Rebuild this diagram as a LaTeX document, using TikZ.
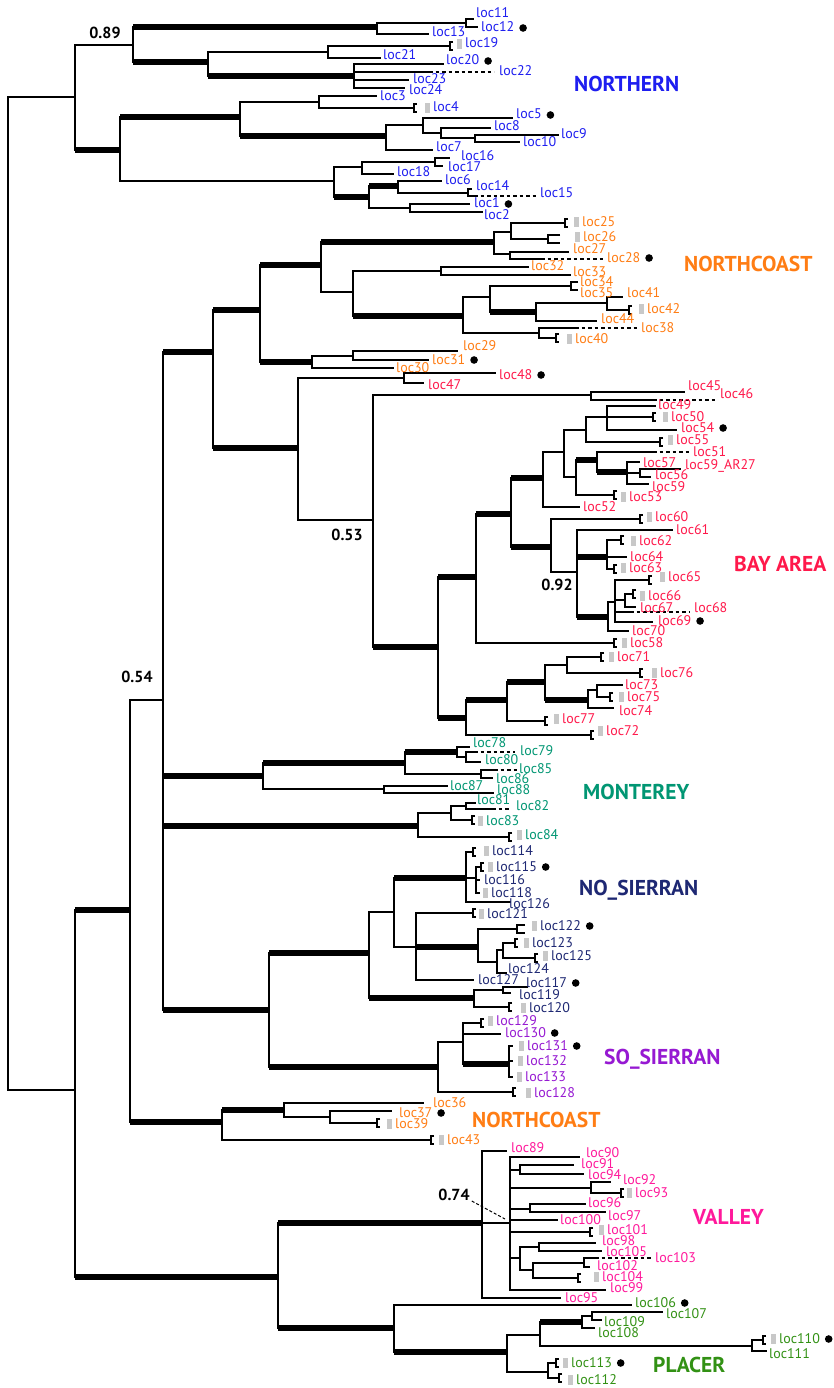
\documentclass[tikz,border=0pt]{standalone}
\usepackage{fontspec}
\setmainfont{PT Sans}
\definecolor{cN}{RGB}{30,30,240}
\definecolor{cC}{RGB}{255,125,20}
\definecolor{cB}{RGB}{255,25,75}
\definecolor{cM}{RGB}{0,150,115}
\definecolor{cS}{RGB}{30,40,115}
\definecolor{cP}{RGB}{150,25,210}
\definecolor{cV}{RGB}{255,25,155}
\definecolor{cG}{RGB}{50,145,20}
\definecolor{gq}{RGB}{200,200,200}
\tikzset{
 ln/.style={line width=1.7pt},
 tk/.style={line width=6pt},
 dl/.style={line width=1.7pt,dash pattern=on 3.5pt off 3pt},
 lab/.style={anchor=west,inner sep=0pt,text height=8pt,text depth=0pt,font=\fontsize{14}{16}\selectfont},
 nL/.style={lab,text=cN}, cL/.style={lab,text=cC}, bL/.style={lab,text=cB},
 mL/.style={lab,text=cM}, sL/.style={lab,text=cS}, pL/.style={lab,text=cP},
 vL/.style={lab,text=cV}, gL/.style={lab,text=cG},
 grp/.style={anchor=west,inner sep=0pt,text height=15pt,text depth=0pt,font=\fontsize{21.5}{24}\selectfont\bfseries},
 supv/.style={inner sep=0pt,font=\fontsize{16}{18}\selectfont\bfseries},
}
\newcommand\trc[3]{\coordinate (#1) at (#2,#3);}
\newcommand\trb[2]{\draw[ln] (#1) |- (#2);}
\newcommand\trt[2]{\draw[ln] (#1) |- (#2);\draw[tk] (#1 |- #2) -- (#2);}
\newcommand\trk[4][3]{\coordinate (#2) at (#3,#4);\draw[ln] ([shift={(#1,-4)}]#2) -| ([shift={(0,4)}]#2) -- ++(#1,0);}
\newcommand\trd[4]{\coordinate (#2) at (#3,#4);\draw[dl] (#1) -- (#2);}
\newcommand\trn[4]{\node[#1] (#2) at (#3,#4) {#2};}
\newcommand\trg[1]{\fill[gq] ([shift={(-8.5,-4.8)}]#1.west) rectangle ([shift={(-3,4.8)}]#1.west);}
\newcommand\trdot[1]{\fill ([xshift=8.5pt]#1.east) circle (3.8pt);}
\begin{document}
\begin{tikzpicture}[x=1pt,y=-1pt]
\fill[white] (0,0) rectangle (833,1388);
\useasboundingbox (0,0) rectangle (833,1388);
% ---------------- backbone
\trc{root}{8}{593}
\trc{N1}{75}{97}\trc{N6}{75}{1090}\trb{root}{N1}\trb{root}{N6}
\trc{N2}{133}{45}\trc{N4}{120}{150}\trb{N1}{N2}\trt{N1}{N4}
\trc{A}{377}{27}\trc{N3}{208}{62}\trt{N2}{A}\trt{N2}{N3}
\trc{Cn}{328}{52}\trc{E}{354}{76}\trb{N3}{Cn}\trt{N3}{E}
\trc{N5}{240}{117}\trc{J}{334}{181}\trt{N4}{N5}\trb{N4}{J}
\trc{I}{319}{102}\trc{V}{386}{136}\trb{N5}{I}\trt{N5}{V}
% ---------------- NORTHERN
\trc{B}{466}{23}\trc{t13}{429}{34}\trb{A}{B}\trb{A}{t13}
\trc{t11}{474}{19}\trc{t12}{478}{27}\trb{B}{t11}\trb{B}{t12}
\trk{k19}{450}{46}\trc{t21}{381}{58}\trb{Cn}{k19}\trb{Cn}{t21}
\trc{t20}{444}{64}\trc{t22}{429}{72}\trc{t23}{409}{80}\trc{t24}{405}{88}
\trb{E}{t20}\trb{E}{t22}\trb{E}{t23}\trb{E}{t24}\trd{t22}{d22}{494}{72}
\trc{t3}{377}{96}\trk{k4}{414}{108}\trb{I}{t3}\trb{I}{k4}
\trc{F}{423}{125}\trc{t7}{433}{150}\trb{V}{F}\trb{V}{t7}
\trc{t5}{513}{118}\trc{G}{441}{133}\trb{F}{t5}\trb{F}{G}
\trc{t8}{491}{128}\trc{H}{475}{138}\trb{G}{t8}\trb{G}{H}
\trc{t9}{559}{135}\trc{t10}{520}{142}\trb{H}{t9}\trb{H}{t10}
\trc{K}{362}{167}\trc{M}{369}{197}\trb{J}{K}\trt{J}{M}
\trc{L}{435}{162}\trc{t18}{394}{174}\trb{K}{L}\trb{K}{t18}
\trc{t16}{450}{158}\trc{t17}{443}{166}\trb{L}{t16}\trb{L}{t17}
\trc{Nn}{398}{186}\trc{P}{410}{208}\trt{M}{Nn}\trb{M}{P}
\trc{t6}{442}{181}\trc{O}{468}{193}\trb{Nn}{t6}\trb{Nn}{O}
\trc{t14}{472}{189}\trc{t15}{474}{196}\trb{O}{t14}\trb{O}{t15}\trd{t15}{d15}{537}{196}
\trc{t1}{470}{204}\trc{t2}{483}{212}\trb{P}{t1}\trb{P}{t2}
% ---------------- middle backbone
\trc{N7}{130}{910}\trc{VA0}{278}{1277}\trt{N6}{N7}\trt{N6}{VA0}
\trc{N8}{163}{700}\trc{N10}{222}{1122}\trb{N7}{N8}\trt{N7}{N10}
\trc{N9}{213}{352}\trc{MA}{263}{776}\trc{MG}{418}{826}\trc{SA}{269}{1010}
\trt{N8}{N9}\trt{N8}{MA}\trt{N8}{MG}\trt{N8}{SA}
\trc{Q}{260}{310}\trc{Z}{298}{448}\trt{N9}{Q}\trt{N9}{Z}
% ---------------- NORTHCOAST (upper)
\trc{R}{321}{265}\trc{Y1}{312}{362}\trt{Q}{R}\trt{Q}{Y1}
\trc{S}{494}{242}\trc{W}{353}{292}\trt{R}{S}\trb{R}{W}
\trc{T}{511}{232}\trc{U}{510}{254}\trb{S}{T}\trb{S}{U}
\trk{k25}{565}{223}\trk[12]{k26}{548}{239}\trb{T}{k25}\trb{T}{k26}
\trc{t27}{569}{252}\trc{t28}{541}{259}\trb{U}{t27}\trb{U}{t28}\trd{t28}{d28}{606}{259}
\trc{X1}{441}{271}\trc{X2}{463}{316}\trb{W}{X1}\trt{W}{X2}
\trc{t32}{529}{267}\trc{t33}{571}{275}\trb{X1}{t32}\trb{X1}{t33}
\trc{X3}{490}{297}\trc{X6}{539}{333}\trb{X2}{X3}\trb{X2}{X6}
\trk[7]{k34}{571}{286}\trc{X4}{536}{312}\trb{X3}{k34}\trt{X3}{X4}
\trc{X5}{607}{303}\trc{t44}{597}{321}\trb{X4}{X5}\trb{X4}{t44}
\trc{t41}{623}{297}\trk{k42}{629}{310}\trb{X5}{t41}\trb{X5}{k42}
\trc{t38}{575}{328}\trk{k40}{556}{338}\trb{X6}{t38}\trb{X6}{k40}\trd{t38}{d38}{638}{328}
\trc{Y2}{353}{356}\trc{t30}{394}{368}\trb{Y1}{Y2}\trb{Y1}{t30}
\trc{t29}{458}{351}\trc{t31}{429}{360}\trb{Y2}{t29}\trb{Y2}{t31}
% ---------------- BAY AREA
\trc{Z1}{404}{378}\trc{AA}{373}{520}\trb{Z}{Z1}\trb{Z}{AA}
\trc{t48}{496}{373}\trc{t47}{424}{383}\trb{Z1}{t48}\trb{Z1}{t47}
\trc{AB}{591}{395}\trc{AC}{438}{647}\trb{AA}{AB}\trt{AA}{AC}
\trc{t45}{685}{392}\trc{t46}{653}{400}\trb{AB}{t45}\trb{AB}{t46}\trd{t46}{d46}{718}{400}
\trc{AN}{476}{577}\trc{AY}{466}{718}\trt{AC}{AN}\trt{AC}{AY}
\trc{AL}{511}{514}\trk{k58}{614}{643}\trt{AN}{AL}\trb{AN}{k58}
\trc{AG}{543}{478}\trc{AM}{551}{547}\trt{AL}{AG}\trt{AL}{AM}
\trc{AF}{564}{452}\trc{t52}{580}{507}\trb{AG}{AF}\trb{AG}{t52}
\trc{AE}{586}{430}\trc{AH}{576}{477}\trb{AF}{AE}\trb{AF}{AH}
\trc{AD}{607}{417}\trk{k55}{660}{442}\trb{AE}{AD}\trb{AE}{k55}
\trc{t49}{656}{406}\trk{k50}{653}{417}\trc{t54}{677}{430}\trb{AD}{t49}\trb{AD}{k50}\trb{AD}{t54}
\trc{AI}{597}{460}\trk{k53}{614}{495}\trt{AH}{AI}\trb{AH}{k53}
\trc{t51}{653}{452}\trc{AJ}{627}{472}\trb{AI}{t51}\trt{AI}{AJ}\trd{t51}{d51}{690}{452}
\trc{t57}{640}{462}\trc{AK}{640}{473}\trc{t59}{649}{484}\trb{AJ}{t57}\trb{AJ}{AK}\trb{AJ}{t59}
\trc{t59ar}{681}{469}\trc{t56}{651}{477}\trb{AK}{t59ar}\trb{AK}{t56}
\trk{k60}{640}{519}\trc{AO}{577}{572}\trb{AM}{k60}\trb{AM}{AO}
\trc{t61}{673}{530}\trc{AP}{607}{557}\trc{AQ}{608}{617}\trb{AO}{t61}\trt{AO}{AP}\trt{AO}{AQ}
\trk{k62}{621}{540}\trc{t64}{627}{557}\trk{k63}{614}{569}\trb{AP}{k62}\trb{AP}{t64}\trb{AP}{k63}
\trc{AR}{615}{602}\trc{t70}{629}{631}\trb{AQ}{AR}\trb{AQ}{t70}
\trk{k65}{649}{580}\trc{AS}{625}{600}\trc{t68}{630}{612}\trc{t69}{653}{622}
\trb{AR}{k65}\trb{AR}{AS}\trb{AR}{t68}\trb{AR}{t69}\trd{t68}{d68}{690}{612}
\trk{k66}{633}{594}\trc{t67}{636}{607}\trb{AS}{k66}\trb{AS}{t67}
\trc{AX}{507}{700}\trk{k72}{591}{735}\trt{AY}{AX}\trb{AY}{k72}
\trc{AT}{545}{682}\trk{k77}{545}{721}\trt{AX}{AT}\trb{AX}{k77}
\trc{AU}{567}{665}\trc{AV}{588}{700}\trb{AT}{AU}\trt{AT}{AV}
\trk{k71}{601}{657}\trk{k76}{640}{673}\trb{AU}{k71}\trb{AU}{k76}
\trc{AW}{597}{690}\trc{t74}{614}{708}\trb{AV}{AW}\trb{AV}{t74}
\trc{t73}{623}{685}\trk{k75}{610}{697}\trb{AW}{t73}\trb{AW}{k75}
% ---------------- MONTEREY
\trc{MB}{405}{763}\trc{MF}{384}{789}\trt{MA}{MB}\trb{MA}{MF}
\trc{MC}{457}{752}\trc{MD}{481}{774}\trt{MB}{MC}\trb{MB}{MD}
\trc{t78}{470}{747}\trc{ME}{466}{757}\trb{MC}{t78}\trb{MC}{ME}
\trc{t79}{474}{752}\trc{t80}{481}{762}\trb{ME}{t79}\trb{ME}{t80}\trd{t79}{d79}{515}{752}
\trc{t85}{494}{770}\trc{t86}{493}{778}\trb{MD}{t85}\trb{MD}{t86}\trd{t85}{d85}{517}{770}
\trc{t87}{448}{786}\trc{t88}{494}{793}\trb{MF}{t87}\trb{MF}{t88}
\trc{MH}{451}{813}\trk{k84}{509}{837}\trb{MG}{MH}\trb{MG}{k84}
\trc{MI}{466}{806}\trk{k83}{472}{820}\trb{MH}{MI}\trb{MH}{k83}
\trc{t81}{476}{803}\trc{t82}{492}{809}\trb{MI}{t81}\trb{MI}{t82}\trd{t82}{d82}{509}{809}
% ---------------- NO_SIERRAN
\trc{NE}{369}{953}\trc{SB}{438}{1067}\trt{SA}{NE}\trt{SA}{SB}
\trc{NC}{394}{912}\trc{NF}{474}{998}\trb{NE}{NC}\trt{NE}{NF}
\trc{NA}{466}{878}\trc{ND}{416}{947}\trt{NC}{NA}\trb{NC}{ND}
\trk{k114}{473}{852}\trc{NB}{476}{878}\trc{t126}{511}{902}\trb{NA}{k114}\trb{NA}{NB}\trb{NA}{t126}
\trk{k115}{481}{867}\trc{t116}{480}{880}\trc{t118}{480}{893}\trb{NB}{k115}\trb{NB}{t116}\trb{NB}{t118}
\trk{k121}{473}{913}\trc{NG}{478}{947}\trc{t127}{474}{980}\trb{ND}{k121}\trt{ND}{NG}\trb{ND}{t127}
\trk[8]{k122}{517}{929}\trc{NH}{497}{962}\trb{NG}{k122}\trb{NG}{NH}
\trc{NI}{503}{950}\trc{t124}{507}{973}\trb{NH}{NI}\trb{NH}{t124}
\trk{k123}{515}{943}\trk{k125}{535}{958}\trb{NI}{k123}\trb{NI}{k125}
\trc{NJ}{503}{990}\trk{k120}{509}{1007}\trb{NF}{NJ}\trb{NF}{k120}
\trc{t117}{528}{987}\trc{t119}{511}{993}\trb{NJ}{t117}\trb{NJ}{t119}
% ---------------- SO_SIERRAN
\trc{SC}{463}{1042}\trk{k128}{513}{1092}\trb{SB}{SC}\trb{SB}{k128}
\trk{k129}{481}{1023}\trc{t130}{501}{1034}\trc{SD}{509}{1064}\trb{SC}{k129}\trb{SC}{t130}\trt{SC}{SD}
\trc{t131}{513}{1046}\trc{t132}{513}{1061}\trc{t133}{513}{1077}\trb{SD}{t131}\trb{SD}{t132}\trb{SD}{t133}
% ---------------- NORTHCOAST (lower)
\trc{NCa}{284}{1110}\trk{k43}{431}{1140}\trt{N10}{NCa}\trb{N10}{k43}
\trc{t36}{424}{1103}\trc{NCb}{330}{1117}\trb{NCa}{t36}\trb{NCa}{NCb}
\trc{t37}{392}{1111}\trk{k39}{377}{1123}\trb{NCb}{t37}\trb{NCb}{k39}
% ---------------- VALLEY
\trc{VA}{482}{1223}\trc{PA}{394}{1328}\trt{VA0}{VA}\trt{VA0}{PA}
\trc{t89}{507}{1151}\trc{VB}{510}{1223}\trc{t95}{561}{1298}\trb{VA}{t89}\trb{VA}{VB}\trb{VA}{t95}
\trc{t90}{580}{1157}\trc{V1}{520}{1170}\trc{V2}{591}{1188}\trc{V3}{530}{1209}\trc{t100}{558}{1220}
\trk{k101}{590}{1232}\trc{VC}{520}{1258}\trc{t99}{606}{1290}
\trb{VB}{t90}\trb{VB}{V1}\trb{VB}{V2}\trb{VB}{V3}\trb{VB}{t100}\trb{VB}{k101}\trb{VB}{VC}\trb{VB}{t99}
\trc{t91}{574}{1165}\trc{t94}{584}{1174}\trb{V1}{t91}\trb{V1}{t94}
\trc{t92}{611}{1182}\trk{k93}{621}{1193}\trb{V2}{t92}\trb{V2}{k93}
\trc{t96}{586}{1204}\trc{t97}{606}{1212}\trb{V3}{t96}\trb{V3}{t97}
\trc{VD}{539}{1247}\trc{VE}{533}{1270}\trb{VC}{VD}\trb{VC}{VE}
\trc{t98}{596}{1243}\trc{t105}{602}{1251}\trb{VD}{t98}\trb{VD}{t105}
\trc{VF}{584}{1263}\trk{k104}{578}{1278}\trb{VE}{VF}\trb{VE}{k104}
\trc{t103}{595}{1258}\trc{t102}{590}{1267}\trb{VF}{t103}\trb{VF}{t102}\trd{t103}{d103}{651}{1258}
% ---------------- PLACER
\trc{t106}{632}{1305}\trc{PB}{507}{1352}\trb{PA}{t106}\trt{PA}{PB}
\trc{PC}{540}{1335}\trc{PD}{548}{1372}\trb{PB}{PC}\trb{PB}{PD}
\trc{PE}{582}{1322}\trc{PG}{752}{1346}\trt{PC}{PE}\trb{PC}{PG}
\trc{PF}{592}{1316}\trc{t108}{595}{1328}\trb{PE}{PF}\trb{PE}{t108}
\trc{t107}{663}{1312}\trc{t109}{602}{1320}\trb{PF}{t107}\trb{PF}{t109}
\trk{k110}{763}{1340}\trc{t111}{767}{1351}\trb{PG}{k110}\trb{PG}{t111}
\trk{k113}{556}{1363}\trk{k112}{559}{1378}\trb{PD}{k113}\trb{PD}{k112}
% ================= labels
\trn{nL}{loc11}{476}{14}\trn{nL}{loc12}{481}{28}\trn{nL}{loc13}{432}{33}\trn{nL}{loc19}{465}{44}
\trn{nL}{loc21}{383}{56}\trn{nL}{loc20}{446}{61}\trn{nL}{loc22}{499}{72}\trn{nL}{loc23}{413}{80}
\trn{nL}{loc24}{409}{91}\trn{nL}{loc3}{380}{97}\trn{nL}{loc4}{433}{108}\trn{nL}{loc5}{516}{115}
\trn{nL}{loc8}{494}{127}\trn{nL}{loc9}{561}{135}\trn{nL}{loc10}{523}{143}\trn{nL}{loc7}{436}{148}
\trn{nL}{loc16}{461}{157}\trn{nL}{loc17}{448}{168}\trn{nL}{loc18}{397}{173}\trn{nL}{loc6}{445}{181}
\trn{nL}{loc14}{476}{187}\trn{nL}{loc15}{540}{194}\trn{nL}{loc1}{474}{204}\trn{nL}{loc2}{484}{216}
\trdot{loc12}\trdot{loc20}\trdot{loc5}\trdot{loc1}\trg{loc19}\trg{loc4}
\trn{cL}{loc25}{582}{222}\trn{cL}{loc26}{583}{237}\trn{cL}{loc27}{573}{250}\trn{cL}{loc28}{607}{258}
\trn{cL}{loc32}{531}{266}\trn{cL}{loc33}{573}{272}\trn{cL}{loc34}{580}{282}\trn{cL}{loc35}{580}{293}
\trn{cL}{loc41}{627}{293}\trn{cL}{loc42}{647}{309}\trn{cL}{loc44}{601}{319}\trn{cL}{loc38}{641}{328}
\trn{cL}{loc40}{575}{339}\trn{cL}{loc29}{463}{346}\trn{cL}{loc31}{432}{360}\trn{cL}{loc30}{396}{368}
\trn{cL}{loc36}{433}{1103}\trn{cL}{loc37}{399}{1113}\trn{cL}{loc39}{395}{1124}\trn{cL}{loc43}{447}{1140}
\trg{loc25}\trg{loc26}\trg{loc42}\trg{loc40}\trg{loc39}\trg{loc43}\trdot{loc28}\trdot{loc31}\trdot{loc37}
\trn{bL}{loc48}{499}{375}\trn{bL}{loc47}{428}{385}\trn{bL}{loc45}{688}{386}\trn{bL}{loc46}{720}{394}
\trn{bL}{loc49}{658}{405}\trn{bL}{loc50}{671}{417}\trn{bL}{loc54}{681}{428}\trn{bL}{loc55}{676}{440}
\trn{bL}{loc51}{693}{452}\trn{bL}{loc57}{643}{463}\node[bL] (loc59AR) at (685,465) {loc59\_AR27};
\trn{bL}{loc56}{655}{475}\trn{bL}{loc59}{652}{487}\trn{bL}{loc53}{629}{497}\trn{bL}{loc52}{583}{507}
\trn{bL}{loc60}{655}{517}\trn{bL}{loc61}{676}{530}\trn{bL}{loc62}{639}{541}\trn{bL}{loc64}{630}{557}
\trn{bL}{loc63}{629}{568}\trn{bL}{loc65}{668}{577}\trn{bL}{loc66}{648}{596}\trn{bL}{loc67}{640}{608}
\trn{bL}{loc68}{694}{608}\trn{bL}{loc69}{658}{621}\trn{bL}{loc70}{632}{631}\trn{bL}{loc58}{630}{643}
\trn{bL}{loc71}{617}{657}\trn{bL}{loc76}{660}{673}\trn{bL}{loc73}{625}{685}\trn{bL}{loc75}{627}{697}
\trn{bL}{loc74}{619}{711}\trn{bL}{loc77}{562}{719}\trn{bL}{loc72}{606}{731}
\trdot{loc48}\trdot{loc54}\trdot{loc69}
\trg{loc50}\trg{loc55}\trg{loc53}\trg{loc60}\trg{loc62}\trg{loc63}\trg{loc65}\trg{loc66}
\trg{loc58}\trg{loc71}\trg{loc76}\trg{loc75}\trg{loc77}\trg{loc72}
\trn{mL}{loc78}{473}{743}\trn{mL}{loc79}{520}{751}\trn{mL}{loc80}{485}{760}\trn{mL}{loc85}{519}{769}
\trn{mL}{loc86}{496}{779}\trn{mL}{loc87}{450}{786}\trn{mL}{loc88}{497}{790}\trn{mL}{loc81}{477}{800}
\trn{mL}{loc82}{516}{806}\trn{mL}{loc83}{486}{821}\trn{mL}{loc84}{525}{835}\trg{loc83}\trg{loc84}
\trn{sL}{loc114}{492}{851}\trn{sL}{loc115}{496}{867}\trn{sL}{loc116}{484}{880}\trn{sL}{loc118}{491}{893}
\trn{sL}{loc126}{509}{904}\trn{sL}{loc121}{487}{914}\trn{sL}{loc122}{540}{926}\trn{sL}{loc123}{532}{943}
\trn{sL}{loc125}{551}{956}\trn{sL}{loc124}{508}{969}\trn{sL}{loc127}{478}{980}\trn{sL}{loc117}{526}{983}
\trn{sL}{loc119}{519}{995}\trn{sL}{loc120}{529}{1008}
\trg{loc114}\trg{loc115}\trg{loc118}\trg{loc121}\trg{loc122}\trg{loc123}\trg{loc125}\trg{loc120}
\trdot{loc115}\trdot{loc122}\trdot{loc117}
\trn{pL}{loc129}{496}{1021}\trn{pL}{loc130}{505}{1033}\trn{pL}{loc131}{527}{1046}\trn{pL}{loc132}{526}{1061}
\trn{pL}{loc133}{525}{1077}\trn{pL}{loc128}{534}{1093}
\trg{loc129}\trg{loc131}\trg{loc132}\trg{loc133}\trg{loc128}\trdot{loc130}\trdot{loc131}
\trn{vL}{loc89}{511}{1148}\trn{vL}{loc90}{586}{1153}\trn{vL}{loc91}{581}{1164}\trn{vL}{loc94}{588}{1175}
\trn{vL}{loc92}{623}{1180}\trn{vL}{loc93}{635}{1193}\trn{vL}{loc96}{588}{1203}\trn{vL}{loc97}{608}{1216}
\trn{vL}{loc100}{560}{1220}\trn{vL}{loc101}{607}{1230}\trn{vL}{loc98}{602}{1241}\trn{vL}{loc105}{606}{1252}
\trn{vL}{loc103}{655}{1258}\trn{vL}{loc102}{597}{1266}\trn{vL}{loc104}{602}{1277}\trn{vL}{loc99}{610}{1288}
\trn{vL}{loc95}{565}{1298}\trg{loc93}\trg{loc101}\trg{loc104}
\trn{gL}{loc106}{635}{1303}\trn{gL}{loc107}{666}{1314}\trn{gL}{loc109}{604}{1322}\trn{gL}{loc108}{598}{1333}
\trn{gL}{loc110}{779}{1339}\trn{gL}{loc111}{769}{1354}\trn{gL}{loc113}{571}{1363}\trn{gL}{loc112}{576}{1380}
\trg{loc110}\trg{loc113}\trg{loc112}\trdot{loc106}\trdot{loc110}\trdot{loc113}
% group names
\node[grp,text=cN] (gN) at (574,84) {NORTHERN};
\node[grp,text=cC] (gC1) at (684,264) {NORTHCOAST};
\node[grp,text=cB] (gB) at (734,564) {BAY AREA};
\node[grp,text=cM] (gM) at (583,792) {MONTEREY};
\node[grp,text=cS] (gS) at (579,888) {NO\_SIERRAN};
\node[grp,text=cP] (gP) at (604,1057) {SO\_SIERRAN};
\node[grp,text=cC] (gC2) at (472,1120) {NORTHCOAST};
\node[grp,text=cV] (gV) at (693,1217) {VALLEY};
\node[grp,text=cG] (gG) at (653,1365) {PLACER};
% support values
\node[supv] (s089) at (105,33) {0.89};
\node[supv] (s054) at (137,677) {0.54};
\node[supv] (s053) at (347,535) {0.53};
\node[supv] (s092) at (557,585) {0.92};
\node[supv] (s074) at (454,1195) {0.74};
\coordinate (lead) at (505,1219);
\draw[line width=1pt,dash pattern=on 3pt off 2pt] ([xshift=2pt]s074.south east) -- (lead);
\end{tikzpicture}
\end{document}
